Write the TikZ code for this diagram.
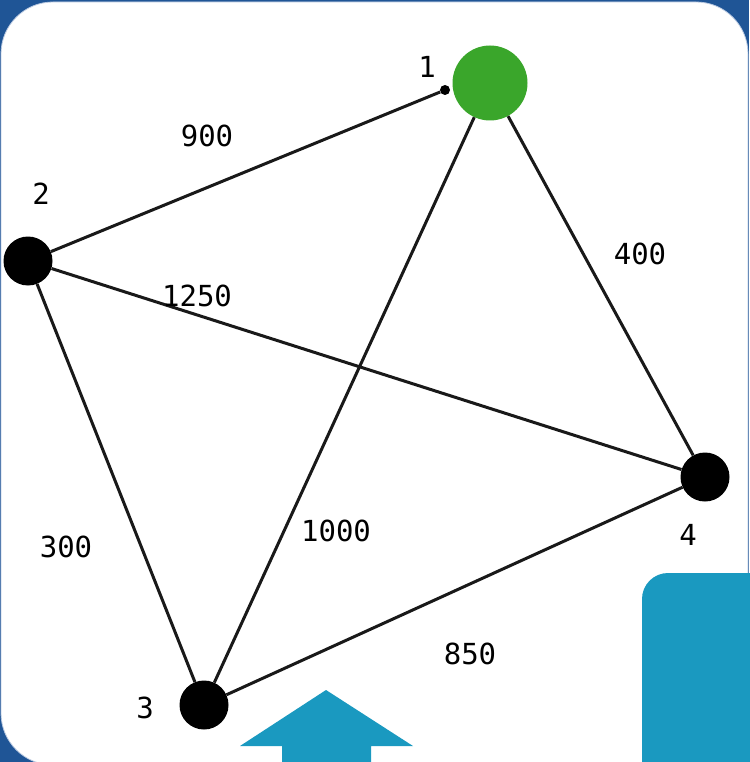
\documentclass[tikz,border=0pt]{standalone}
\usepackage{fontspec}
\setmonofont{DejaVu Sans Mono}
\usetikzlibrary{positioning}
\definecolor{slide}{HTML}{1F5596}
\definecolor{rim}{HTML}{B8C8E0}
\definecolor{sky}{HTML}{1A99C0}
\definecolor{start}{HTML}{3AA62B}
\tikzset{
  city/.style={circle,fill=black,minimum size=49pt,inner sep=0pt},
  home/.style={circle,fill=start,minimum size=75pt,inner sep=0pt},
  pin/.style={circle,fill=black,minimum size=10pt,inner sep=0pt},
  road/.style={line width=3pt,color=black!90},
  num/.style={font=\ttfamily\fontsize{29}{29}\selectfont,inner sep=0pt,text=black},
}

\begin{document}
\begin{tikzpicture}[x=1pt,y=-1pt]
  \useasboundingbox (0,0) rectangle (749,762);
  % slide backdrop and white panel
  \fill[slide] (0,0) rectangle (749,762);
  \filldraw[fill=white,draw=rim,line width=.8pt,rounded corners=52pt] (1,2) rectangle (748,765);
  \fill[sky,rounded corners=26pt] (642,573) rectangle (800,800);
  \fill[sky] (326,690) -- (413,746) -- (371,746) -- (371,770) -- (282,770) -- (282,746) -- (240,746) -- cycle;

  % cities
  \node[home] (c1) at (490,83) {};
  \node[pin] (p1) at (445,90) {};
  \node[city] (c2) at (28,261) {};
  \node[city] (c3) at (204,705) {};
  \node[city] (c4) at (705,477) {};

  \node[num] (l1) at (427,67) {1};
  \node[num] (l2) at (41,194) {2};
  \node[num] (l3) at (145,708) {3};
  \node[num] (l4) at (688,535) {4};

  % roads
  \draw[road] (c2) -- (p1);
  \draw[road] (c1) -- (c4);
  \draw[road] (c1) -- (c3);
  \draw[road] (c2) -- (c4);
  \draw[road] (c2) -- (c3);
  \draw[road] (c3) -- (c4);

  % distances
  \node[num] (d21) at (207,136) {900};
  \node[num] (d14) at (640,254) {400};
  \node[num] (d24) at (197,296) {1250};
  \node[num] (d13) at (336,531) {1000};
  \node[num] (d23) at (66,547) {300};
  \node[num] (d34) at (470,654) {850};
\end{tikzpicture}
\end{document}
